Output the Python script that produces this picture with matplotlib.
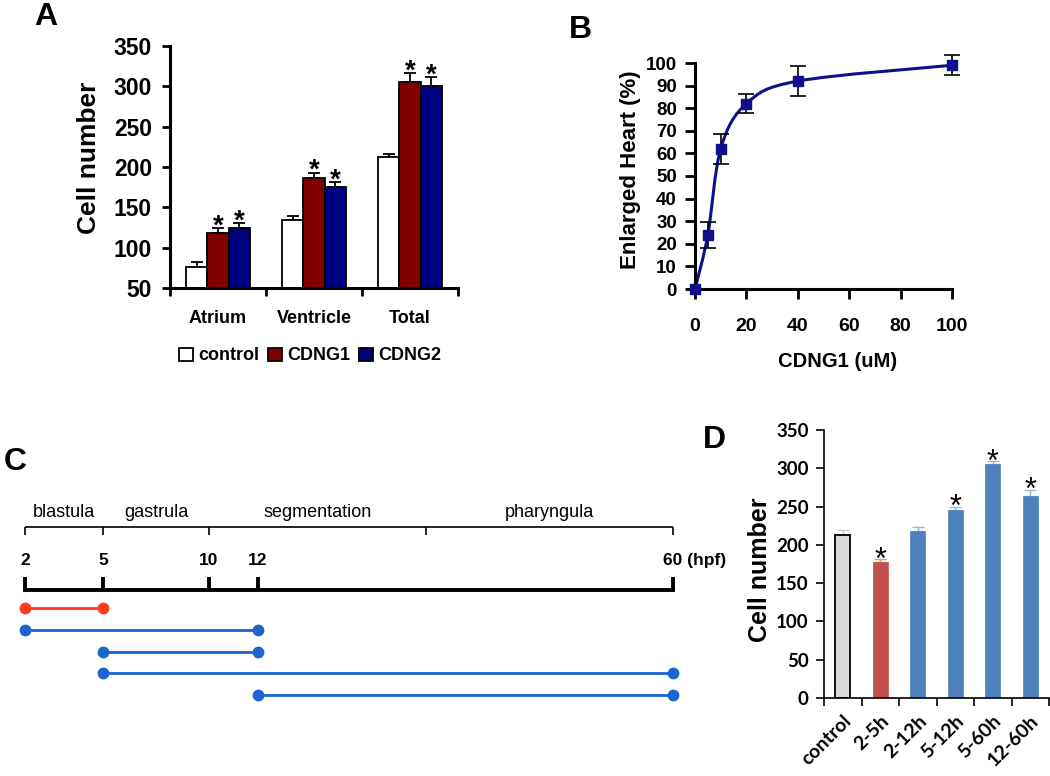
import numpy as np
import matplotlib
matplotlib.use('Agg')
import matplotlib.pyplot as plt
from matplotlib.path import Path
from matplotlib.patches import PathPatch
from matplotlib.ticker import FixedLocator

# ---------------- data ----------------
# Panel A
a_regions = ['Atrium', 'Ventricle', 'Total']
a_series = ['control', 'CDNG1', 'CDNG2']
a_control = [76, 134, 212]
a_control_err = [6, 5, 4]
a_cdng1 = [118, 186, 305]
a_cdng1_err = [6, 7, 11]
a_cdng2 = [124, 175, 300]
a_cdng2_err = [6, 6, 11]
a_yticks = [50, 100, 150, 200, 250, 300, 350]

# Panel B
b_conc = [0, 5, 10, 20, 40, 100]
b_pct = [0, 24, 62, 82, 92, 99]
b_err = [0, 5.7, 6.7, 4.2, 6.7, 4.5]
b_xticks = [0, 20, 40, 60, 80, 100]
b_yticks = [0, 10, 20, 30, 40, 50, 60, 70, 80, 90, 100]

# Panel C
c_stage_names = ['blastula', 'gastrula', 'segmentation', 'pharyngula']
c_stage_bounds = [2, 5, 10, 24, 60]
c_hour_ticks = [2, 5, 10, 12, 60]
c_treat_start = [2, 2, 5, 5, 12]
c_treat_end = [5, 12, 12, 60, 60]

# Panel D
d_labels = ['control', '2-5h', '2-12h', '5-12h', '5-60h', '12-60h']
d_values = [213, 178, 218, 245, 306, 264]
d_err = [6, 3, 5, 5, 3, 8]
d_signif = [False, True, False, True, True, True]
d_yticks = [0, 50, 100, 150, 200, 250, 300, 350]

# ---------------- figure ----------------
W, H = 1050, 776
fig = plt.figure(figsize=(W / 100, H / 100), dpi=100)
ARIAL = 'Liberation Sans'
plt.rcParams['font.family'] = [ARIAL, 'DejaVu Sans']


def rect(x0, y_top, x1, y_bot):
    return [x0 / W, 1 - y_bot / H, (x1 - x0) / W, (y_bot - y_top) / H]


def panel_letter(x, y, s):
    fig.text(x / W, 1 - y / H, s, fontsize=23, fontweight='bold',
             ha='center', va='center', family=ARIAL)


# ---------------- Panel A ----------------
axA = fig.add_axes(rect(170, 46, 458, 288))
xa = np.arange(len(a_regions))
bw = 0.22
a_vals = [a_control, a_cdng1, a_cdng2]
a_errs = [a_control_err, a_cdng1_err, a_cdng2_err]
a_cols = ['white', '#800000', '#000080']
for k in range(3):
    pos = xa + (k - 1) * bw
    axA.bar(pos, a_vals[k], bw, bottom=0, color=a_cols[k], edgecolor='black',
            linewidth=1.3, label=a_series[k], zorder=2)
    axA.errorbar(pos, a_vals[k], yerr=[np.zeros(3), a_errs[k]], fmt='none',
                 ecolor='black', elinewidth=1.3, capsize=4, capthick=1.3, zorder=1)
    if k > 0:
        for p, v, e in zip(pos, a_vals[k], a_errs[k]):
            axA.annotate('*', (p, v + e), xytext=(0, -3.5), textcoords='offset points',
                         ha='center', va='baseline', fontsize=20, fontweight='bold')
axA.set_ylim(50, 350)
axA.set_xlim(-0.5, 2.5)
axA.set_yticks(a_yticks)
axA.set_xticks(xa)
axA.set_xticklabels(a_regions)
axA.xaxis.set_minor_locator(FixedLocator([-0.5, 0.5, 1.5, 2.5]))
axA.tick_params(axis='x', which='major', length=0, pad=16, labelsize=13)
axA.tick_params(axis='x', which='minor', length=6, width=2)
axA.tick_params(axis='y', length=6, width=2, pad=7, labelsize=16.5)
for lab in axA.get_xticklabels() + axA.get_yticklabels():
    lab.set_fontweight('bold')
for s in ['top', 'right']:
    axA.spines[s].set_visible(False)
for s in ['left', 'bottom']:
    axA.spines[s].set_linewidth(2.2)
axA.set_ylabel('Cell number', fontsize=19, fontweight='bold')
axA.yaxis.set_label_coords(-0.24, 0.54)
leg = axA.legend(loc='center', bbox_to_anchor=(310 / W, 1 - 356 / H),
                 bbox_transform=fig.transFigure, ncol=3, frameon=False,
                 handlelength=0.75, handleheight=0.75, handletextpad=0.3,
                 columnspacing=0.5, prop={'weight': 'bold', 'size': 13})
panel_letter(46, 17, 'A')

# ---------------- Panel B ----------------
axB = fig.add_axes(rect(695, 63, 952, 289))
navy = '#10108c'
pts = np.column_stack([b_conc, b_pct]).astype(float)
n = len(pts)
verts = [pts[0]]
codes = [Path.MOVETO]
for i in range(n - 1):
    pp = pts[max(i - 1, 0)]
    p0 = pts[i]
    p1 = pts[i + 1]
    pn = pts[min(i + 2, n - 1)]
    verts += [p0 + (p1 - pp) / 6, p1 - (pn - p0) / 6, p1]
    codes += [Path.CURVE4] * 3
axB.add_patch(PathPatch(Path(verts, codes), fill=False, edgecolor=navy,
                        linewidth=2.2, clip_on=False, zorder=2))
axB.errorbar(b_conc, b_pct, yerr=b_err, fmt='none', ecolor='black',
             elinewidth=1.2, capsize=6, capthick=1.2, zorder=3, clip_on=False)
axB.plot(b_conc, b_pct, linestyle='none', marker='s', markersize=7,
         color=navy, zorder=4, clip_on=False)
axB.set_xlim(0, 100)
axB.set_ylim(0, 100)
axB.set_xticks(b_xticks)
axB.set_yticks(b_yticks)
axB.tick_params(axis='x', length=7, width=2, pad=14, labelsize=14)
axB.tick_params(axis='y', length=7, width=2, pad=6, labelsize=13.5)
for lab in axB.get_xticklabels() + axB.get_yticklabels():
    lab.set_fontweight('bold')
for s in ['top', 'right']:
    axB.spines[s].set_visible(False)
for s in ['left', 'bottom']:
    axB.spines[s].set_linewidth(2.2)
axB.set_xlabel('CDNG1 (uM)', fontsize=14.6, fontweight='bold')
axB.xaxis.set_label_coords(0.553, -0.279)
axB.set_ylabel('Enlarged Heart (%)', fontsize=16, fontweight='bold')
axB.yaxis.set_label_coords(-0.21, 0.527)
panel_letter(580, 30, 'B')

# ---------------- Panel C ----------------
hour_bp = [2, 5, 10, 12, 24, 60]
unit_bp = [0, 78, 184, 233, 401, 648]


def fwd(h):
    return np.interp(h, hour_bp, unit_bp)


def inv(u):
    return np.interp(u, unit_bp, hour_bp)


axC = fig.add_axes(rect(25, 499, 673, 717))
axC.set_xscale('function', functions=(fwd, inv))
axC.set_xlim(2, 60)
axC.set_ylim(5, -5)
axC.axis('off')

y_main = -0.83
y_tick_top = -1.42
y_num = -2.16
y_br = -3.72
y_br_tick = -3.36
y_stage = -4.36

# stage bracket
axC.plot([c_stage_bounds[0], c_stage_bounds[-1]], [y_br, y_br], color='black',
         lw=1.2, clip_on=False, solid_capstyle='butt')
axC.vlines(c_stage_bounds, y_br, y_br_tick, color='black', lw=1.2, clip_on=False)
for i, name in enumerate(c_stage_names):
    mid = inv((fwd(c_stage_bounds[i]) + fwd(c_stage_bounds[i + 1])) / 2)
    axC.text(mid, y_stage, name, ha='center', va='center', fontsize=13,
             family=ARIAL, clip_on=False)

# main timeline
axC.plot([c_hour_ticks[0], c_hour_ticks[-1]], [y_main, y_main], color='black',
         lw=2.8, clip_on=False, solid_capstyle='projecting')
axC.vlines(c_hour_ticks, y_main, y_tick_top, color='black', lw=2.8, clip_on=False)
for h in c_hour_ticks[:-1]:
    axC.text(h, y_num, str(h), ha='center', va='center', fontsize=12.5,
             fontweight='bold', clip_on=False)
axC.annotate('%d (hpf)' % c_hour_ticks[-1], (c_hour_ticks[-1], y_num),
             xytext=(-7.5, 0), textcoords='offset points', ha='left', va='center',
             fontsize=12.5, fontweight='bold', annotation_clip=False)

# treatment windows
for i, (s, e) in enumerate(zip(c_treat_start, c_treat_end)):
    col = '#ff3b1c' if i == 0 else '#1a66cc'
    axC.plot([s, e], [i, i], color=col, lw=2.0, marker='o', markersize=7.5,
             clip_on=False, solid_capstyle='butt')
panel_letter(15, 462, 'C')

# ---------------- Panel D ----------------
axD = fig.add_axes(rect(824, 430, 1049, 698))
xd = np.arange(len(d_labels))
d_cols = ['#d9d9d9', '#c0504d'] + ['#4f81bd'] * 4
d_ecols = ['#c8c8c8', '#d99694'] + ['#95b3d7'] * 4
for i in range(len(d_labels)):
    axD.bar(xd[i], d_values[i], 0.4, color=d_cols[i],
            edgecolor='black' if i == 0 else d_cols[i],
            linewidth=1.3 if i == 0 else 0.5, zorder=2)
    axD.errorbar(xd[i], d_values[i], yerr=[[0], [d_err[i]]], fmt='none',
                 ecolor=d_ecols[i], elinewidth=1.0, capsize=4, capthick=1.0, zorder=1)
    if d_signif[i]:
        axD.annotate('*', (xd[i], d_values[i] + d_err[i]), xytext=(0, -6.5),
                     textcoords='offset points', ha='center', va='baseline',
                     fontsize=22, family=ARIAL)
axD.set_xlim(-0.5, len(d_labels) - 0.5)
axD.set_ylim(0, 350)
axD.set_yticks(d_yticks)
axD.set_xticks(xd)
axD.set_xticklabels(d_labels, rotation=45, ha='right', va='top',
                    rotation_mode='anchor', family='Lato', fontweight='bold',
                    fontsize=14)
axD.xaxis.set_minor_locator(FixedLocator(np.arange(-0.5, len(d_labels), 1.0)))
axD.tick_params(axis='x', which='major', length=0, pad=10)
axD.tick_params(axis='x', which='minor', length=6, width=1.2)
axD.tick_params(axis='y', length=6, width=1.2, pad=5)
for lab in axD.get_yticklabels():
    lab.set_family('Lato')
    lab.set_fontweight('bold')
    lab.set_fontsize(13.5)
for s in ['top', 'right']:
    axD.spines[s].set_visible(False)
for s in ['left', 'bottom']:
    axD.spines[s].set_linewidth(1.2)
axD.set_ylabel('Cell number', fontsize=18, fontweight='bold')
axD.yaxis.set_label_coords(-0.231, 0.478)
panel_letter(714, 440, 'D')

fig.savefig('out.png', dpi=100)
